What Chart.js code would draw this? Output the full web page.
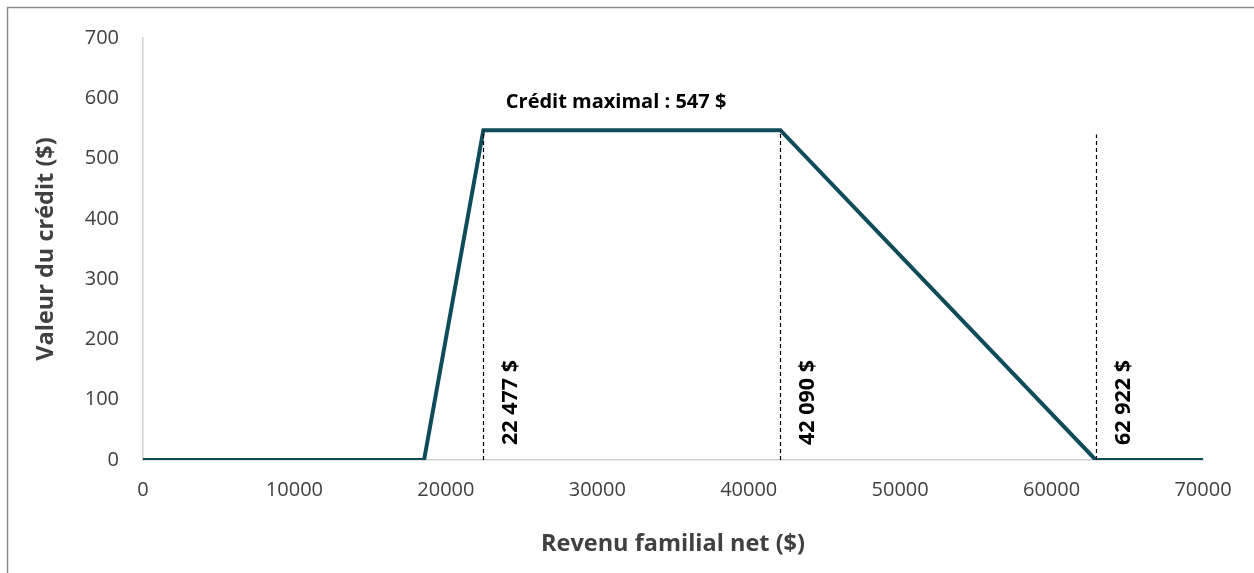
<!DOCTYPE html>
<html>
<head>
<meta charset="utf-8">
<script src="https://cdn.jsdelivr.net/npm/chart.js@4/dist/chart.umd.min.js"></script>
<style>
  html, body { margin: 0; padding: 0; background: #fff; }
  #wrap { width: 1254px; height: 573px; position: relative; }
</style>
</head>
<body>
<div id="wrap"><canvas id="chart" width="1254" height="573"></canvas></div>
<script>
// Données du graphique
const revenu = [0, 18560, 22477, 42090, 62922, 70000];
const credit = [0, 0, 547, 547, 0, 0];

// Seuils (lignes pointillées)
const seuils = [22477, 42090, 62922];
const seuilHaut = [547, 547, 540];
const seuilLabels = ['22 477 $', '42 090 $', '62 922 $'];

const titreMax = 'Crédit maximal : 547 $';
const titreMaxPos = [31240, 594];

const FONT = "'Open Sans', sans-serif";
const GRIS = '#404040';

const annotations = {
  id: 'annotations',
  beforeDraw(chart) {
    const c = chart.ctx;
    c.save();
    c.strokeStyle = '#8c8c8c';
    c.lineWidth = 1.5;
    c.beginPath();
    c.moveTo(7.5, 573);
    c.lineTo(7.5, 7.5);
    c.lineTo(1254, 7.5);
    c.stroke();
    c.restore();
  },
  afterDatasetsDraw(chart) {
    const c = chart.ctx;
    const x = chart.scales.x, y = chart.scales.y;
    c.save();
    seuils.forEach((v, i) => {
      const px = Math.round(x.getPixelForValue(v)) + 0.5;
      c.strokeStyle = '#000';
      c.lineWidth = 1.2;
      c.setLineDash([4, 3]);
      c.beginPath();
      c.moveTo(px, y.getPixelForValue(0));
      c.lineTo(px, y.getPixelForValue(seuilHaut[i]));
      c.stroke();

      c.setLineDash([]);
      c.save();
      c.translate(px + 27, y.getPixelForValue(0) - 15);
      c.rotate(-Math.PI / 2);
      c.fillStyle = '#000';
      c.font = 'bold 21.5px ' + FONT;
      c.textAlign = 'left';
      c.textBaseline = 'middle';
      c.fillText(seuilLabels[i], 0, 0);
      c.restore();
    });
    c.fillStyle = '#000';
    c.font = 'bold 20px ' + FONT;
    c.textAlign = 'center';
    c.textBaseline = 'middle';
    c.fillText(titreMax, x.getPixelForValue(titreMaxPos[0]), y.getPixelForValue(titreMaxPos[1]));
    c.restore();
  }
};

new Chart(document.getElementById('chart'), {
  type: 'scatter',
  data: {
    datasets: [{
      data: revenu.map((v, i) => ({ x: v, y: credit[i] })),
      showLine: true,
      borderColor: '#0f4c5a',
      borderWidth: 4,
      pointRadius: 0,
      fill: false,
      tension: 0
    }]
  },
  options: {
    responsive: false,
    animation: false,
    layout: { padding: { top: 38, right: 51, left: 0, bottom: 0 } },
    plugins: { legend: { display: false }, tooltip: { enabled: false } },
    scales: {
      x: {
        type: 'linear',
        min: 0,
        max: 70000,
        ticks: { stepSize: 10000, padding: 18, color: GRIS, font: { family: FONT, size: 20 }, callback: v => String(v) },
        grid: { drawOnChartArea: false, drawTicks: false },
        border: { color: '#d0d0d0', width: 1.5 },
        title: { display: true, text: 'Revenu familial net ($)', color: GRIS, font: { family: FONT, size: 23.5, weight: 'bold' }, padding: { bottom: 15 } },
        afterFit(s) { s.height = 113; }
      },
      y: {
        min: 0,
        max: 700,
        ticks: { stepSize: 100, padding: 24, color: GRIS, font: { family: FONT, size: 20 } },
        grid: { drawOnChartArea: false, drawTicks: false },
        border: { color: '#d0d0d0', width: 1.5 },
        title: { display: true, text: 'Valeur du crédit ($)', color: GRIS, font: { family: FONT, size: 23.5, weight: 'bold' }, padding: { top: 32 } },
        afterFit(s) { s.width = 143; }
      }
    }
  },
  plugins: [annotations]
});
</script>
</body>
</html>
